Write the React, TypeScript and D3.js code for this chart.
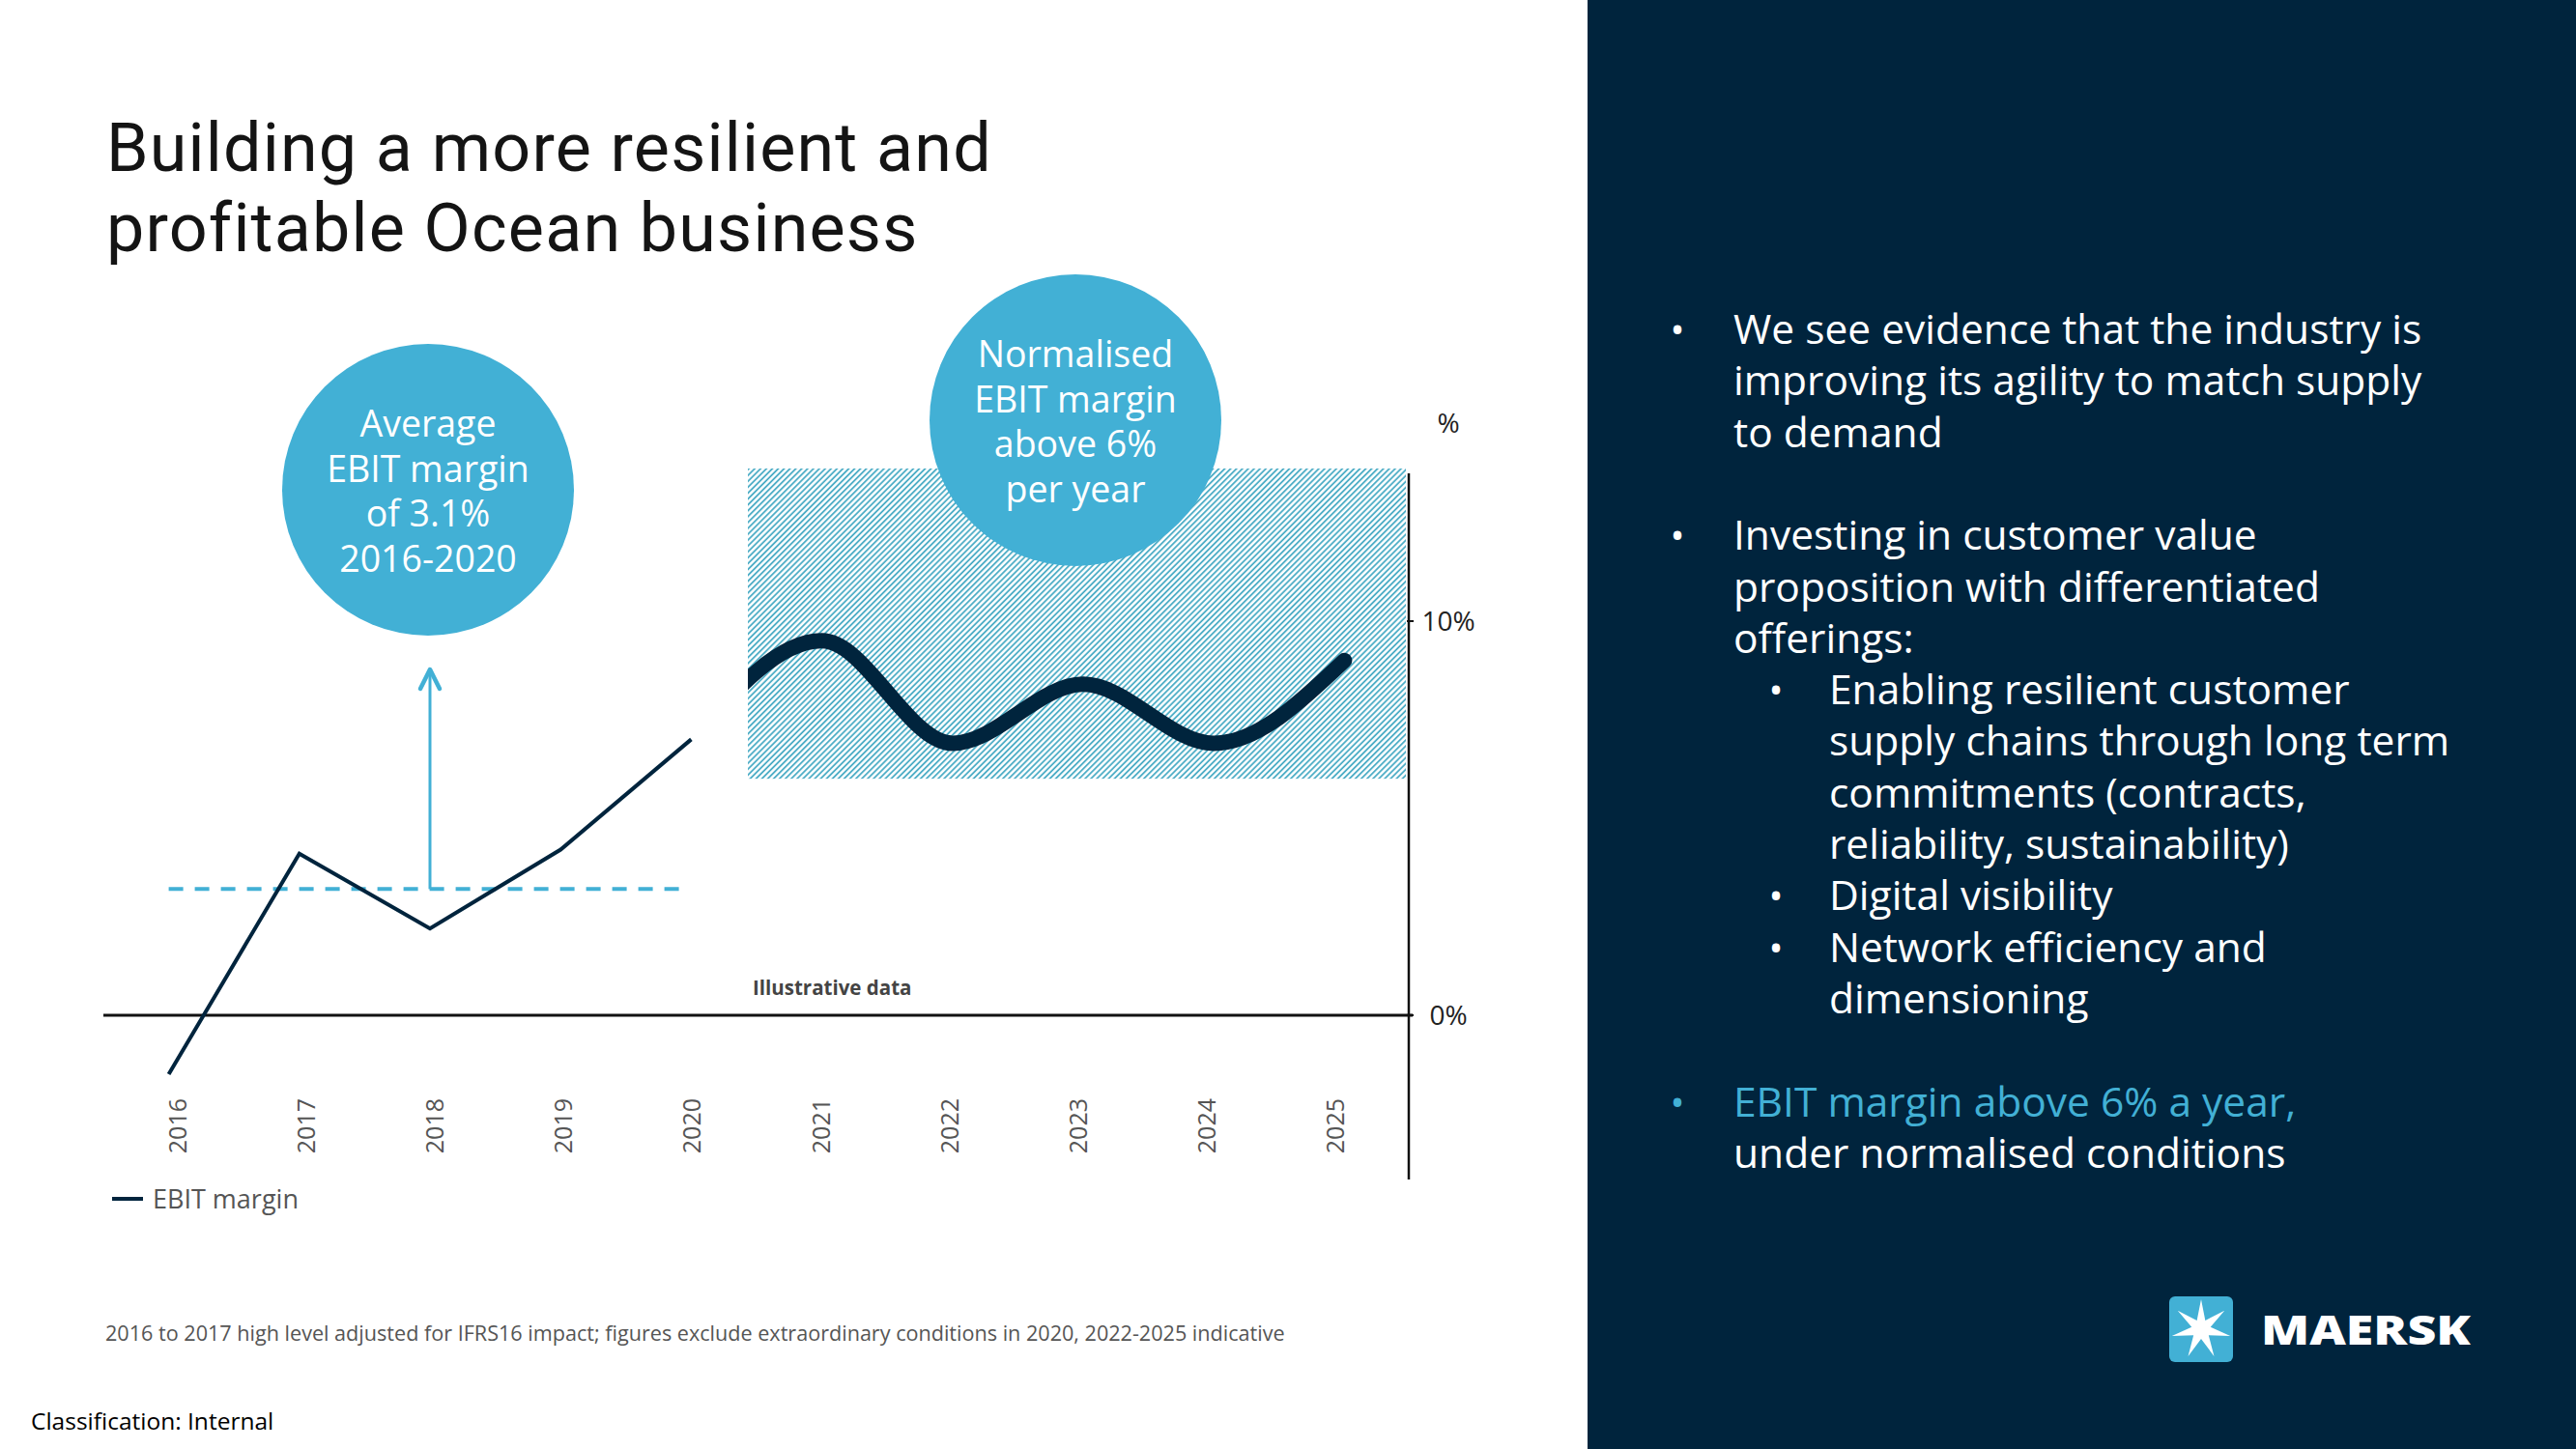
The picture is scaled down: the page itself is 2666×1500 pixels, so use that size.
import React from "react";
import * as d3 from "d3";

const years = ["2016", "2017", "2018", "2019", "2020", "2021", "2022", "2023", "2024", "2025"];
const histYears = ["2016", "2017", "2018", "2019", "2020"];
const histValues = [-1.5, 4.1, 2.2, 4.2, 7.0];
const waveYears = ["2020", "2021", "2022", "2023", "2024", "2025"];
const waveValues = [7.0, 9.5, 6.9, 8.4, 6.9, 9.0];
const bandLow = 6;
const yTicks = [0, 10];
const yTickLabels = ["0%", "10%"];

const titleLines = ["Building a more resilient and", "profitable Ocean business"];
const leftBubble = ["Average", "EBIT margin", "of 3.1%", "2016-2020"];
const rightBubble = ["Normalised", "EBIT margin", "above 6%", "per year"];

type Line = { text: string; level: number; bullet: boolean; color?: string };
const panelLines: Line[] = [
  { text: "We see evidence that the industry is", level: 0, bullet: true },
  { text: "improving its agility to match supply", level: 0, bullet: false },
  { text: "to demand", level: 0, bullet: false },
  { text: "", level: 0, bullet: false },
  { text: "Investing in customer value", level: 0, bullet: true },
  { text: "proposition with differentiated", level: 0, bullet: false },
  { text: "offerings:", level: 0, bullet: false },
  { text: "Enabling resilient customer", level: 1, bullet: true },
  { text: "supply chains through long term", level: 1, bullet: false },
  { text: "commitments (contracts,", level: 1, bullet: false },
  { text: "reliability, sustainability)", level: 1, bullet: false },
  { text: "Digital visibility", level: 1, bullet: true },
  { text: "Network efficiency and", level: 1, bullet: true },
  { text: "dimensioning", level: 1, bullet: false },
  { text: "", level: 0, bullet: false },
  { text: "EBIT margin above 6% a year,", level: 0, bullet: true, color: "#42b0d5" },
  { text: "under normalised conditions", level: 0, bullet: false },
];

const NAVY = "#00243d";
const BLUE = "#42b0d5";
const TEXT_FONT = "'Open Sans', sans-serif";

export default function App() {
  const W = 2666;
  const H = 1500;

  const x = d3.scaleBand<string>().domain(years).range([107, 1459]).padding(0);
  const cx = (yr: string) => (x(yr) as number) + x.bandwidth() / 2;
  const xLabel = d3.scalePoint<string>().domain(years).range([184, 1382]);
  const y = d3.scaleLinear().domain([-4.17, 13.75]).range([1221, 490]);
  const axisX = 1458;

  const avg = d3.mean(histValues) as number;

  const histLine = d3
    .line<number>()
    .x((_, i) => cx(histYears[i]))
    .y((d) => y(d))
    .curve(d3.curveLinear);

  const waveLine = d3
    .line<number>()
    .x((_, i) => cx(waveYears[i]))
    .y((d) => y(d))
    .curve(d3.curveMonotoneX);

  const bandX0 = (cx("2020") + cx("2021")) / 2 - 9;
  const bandX1 = axisX - 3;
  const bandTop = y(13.75) - 5;
  const bandBottom = y(bandLow);

  const arrowX = cx("2018");
  const arrowTop = 693;

  // star for logo
  const starC = [2278, 1376];
  const starPts: [number, number][] = [];
  for (let i = 0; i < 14; i++) {
    const r = i % 2 === 0 ? 31 : 10;
    const a = -Math.PI / 2 + (i * Math.PI) / 7;
    starPts.push([starC[0] + r * Math.cos(a), starC[1] + r * Math.sin(a)]);
  }

  const panelBase = 356;
  const lineStep = 53.3;

  return (
    <svg
      width={W}
      height={H}
      viewBox={`0 0 ${W} ${H}`}
      style={{ position: "absolute", left: 0, top: 0, background: "#fff" }}
    >
      <defs>
        <pattern
          id="hatch"
          patternUnits="userSpaceOnUse"
          width={4.3}
          height={4.3}
          patternTransform="rotate(45)"
        >
          <rect width={4.3} height={4.3} fill="#ffffff" />
          <line x1={1} y1={0} x2={1} y2={4.3} stroke="#3fa7c2" strokeWidth={1.7} />
        </pattern>
        <clipPath id="bandClip">
          <rect x={bandX0} y={0} width={W} height={H} />
        </clipPath>
      </defs>

      <rect x={0} y={0} width={W} height={H} fill="#ffffff" />

      {/* Title */}
      {titleLines.map((t, i) => (
        <text
          key={t}
          x={110}
          y={177 + i * 83}
          fontFamily="Roboto, sans-serif"
          fontWeight={400}
          fontSize={70}
          letterSpacing={1.2}
          fill="#141414"
        >
          {t}
        </text>
      ))}

      {/* Hatched normalised band */}
      <rect
        x={bandX0}
        y={bandTop}
        width={bandX1 - bandX0}
        height={bandBottom - bandTop}
        fill="url(#hatch)"
      />

      {/* Zero line */}
      <line x1={107} x2={axisX + 4} y1={y(0)} y2={y(0)} stroke="#111" strokeWidth={3} />

      {/* Y axis */}
      <line x1={axisX} x2={axisX} y1={y(13.75)} y2={y(-4.17)} stroke="#111" strokeWidth={2.5} />
      {yTicks.map((t, i) => (
        <g key={t}>
          <line x1={axisX - 2} x2={axisX + 5} y1={y(t)} y2={y(t)} stroke="#111" strokeWidth={2} />
          <text
            x={1499}
            y={y(t)}
            dy="0.36em"
            textAnchor="middle"
            fontFamily={TEXT_FONT}
            fontSize={28}
            fill="#222"
          >
            {yTickLabels[i]}
          </text>
        </g>
      ))}
      <text x={1499} y={448} textAnchor="middle" fontFamily={TEXT_FONT} fontSize={28} fill="#222">
        %
      </text>

      {/* Average dashed line */}
      <line
        x1={cx("2016")}
        x2={cx("2020") - 8}
        y1={y(avg)}
        y2={y(avg)}
        stroke={BLUE}
        strokeWidth={4}
        strokeDasharray="15 12"
      />

      {/* Arrow */}
      <line x1={arrowX} x2={arrowX} y1={y(avg)} y2={arrowTop + 2} stroke={BLUE} strokeWidth={3} />
      <path
        d={`M${arrowX - 10},${arrowTop + 20} L${arrowX},${arrowTop} L${arrowX + 10},${arrowTop + 20}`}
        fill="none"
        stroke={BLUE}
        strokeWidth={4.5}
        strokeLinecap="round"
        strokeLinejoin="round"
      />

      {/* Historical EBIT line */}
      <path d={histLine(histValues) || ""} fill="none" stroke={NAVY} strokeWidth={4} />

      {/* Wave */}
      <g clipPath="url(#bandClip)">
        <path
          d={waveLine(waveValues) || ""}
          fill="none"
          stroke={NAVY}
          strokeWidth={16}
          strokeLinecap="round"
          strokeLinejoin="round"
        />
      </g>

      {/* Illustrative data */}
      <text
        x={779}
        y={1030}
        fontFamily={TEXT_FONT}
        fontWeight={700}
        fontSize={20.5}
        fill="#444"
      >
        Illustrative data
      </text>

      {/* Year labels */}
      {years.map((yr) => (
        <text
          key={yr}
          transform={`translate(${xLabel(yr)},1137) rotate(-90)`}
          textAnchor="end"
          dy="0.36em"
          fontFamily={TEXT_FONT}
          fontSize={25}
          fill="#555"
        >
          {yr}
        </text>
      ))}

      {/* Bubbles */}
      <circle cx={443} cy={507} r={151} fill={BLUE} />
      {leftBubble.map((t, i) => (
        <text
          key={t}
          x={443}
          y={452 + i * 46.5}
          textAnchor="middle"
          fontFamily={TEXT_FONT}
          fontSize={37.5}
          fill="#fff"
        >
          {t}
        </text>
      ))}
      <circle cx={1113} cy={435} r={151} fill={BLUE} />
      {rightBubble.map((t, i) => (
        <text
          key={t}
          x={1113}
          y={380 + i * 46.5}
          textAnchor="middle"
          fontFamily={TEXT_FONT}
          fontSize={37.5}
          fill="#fff"
        >
          {t}
        </text>
      ))}

      {/* Legend */}
      <line x1={116} x2={148} y1={1241} y2={1241} stroke={NAVY} strokeWidth={4} />
      <text x={158} y={1241} dy="0.36em" fontFamily={TEXT_FONT} fontSize={27} fill="#555">
        EBIT margin
      </text>

      {/* Footnotes */}
      <text x={109} y={1388} fontFamily={TEXT_FONT} fontSize={21.6} fill="#555">
        2016 to 2017 high level adjusted for IFRS16 impact; figures exclude extraordinary conditions in 2020, 2022-2025 indicative
      </text>
      <text x={32} y={1480} fontFamily={TEXT_FONT} fontSize={24.5} fill="#000">
        Classification: Internal
      </text>

      {/* Right panel */}
      <rect x={1643} y={0} width={W - 1643} height={H} fill={NAVY} />
      {panelLines.map((l, i) => {
        if (!l.text) return null;
        const by = panelBase + i * lineStep;
        const textX = l.level === 0 ? 1794 : 1893;
        const bulletX = l.level === 0 ? 1736 : 1838;
        const col = l.color || "#ffffff";
        return (
          <g key={i}>
            {l.bullet && (
              <text x={bulletX} y={by} textAnchor="middle" fontFamily={TEXT_FONT} fontSize={40} fill={col}>
                •
              </text>
            )}
            <text x={textX} y={by} fontFamily={TEXT_FONT} fontSize={42.5} fill={col}>
              {l.text}
            </text>
          </g>
        );
      })}

      {/* Logo */}
      <rect x={2245} y={1342} width={66} height={68} rx={6} fill={BLUE} />
      <polygon points={starPts.map((p) => p.join(",")).join(" ")} fill="#fff" />
      <text
        x={2340}
        y={1392}
        fontFamily="'Open Sans', sans-serif"
        fontWeight={800}
        fontSize={42}
        fill="#fff"
        textLength={217}
        lengthAdjust="spacingAndGlyphs"
      >
        MAERSK
      </text>
    </svg>
  );
}
